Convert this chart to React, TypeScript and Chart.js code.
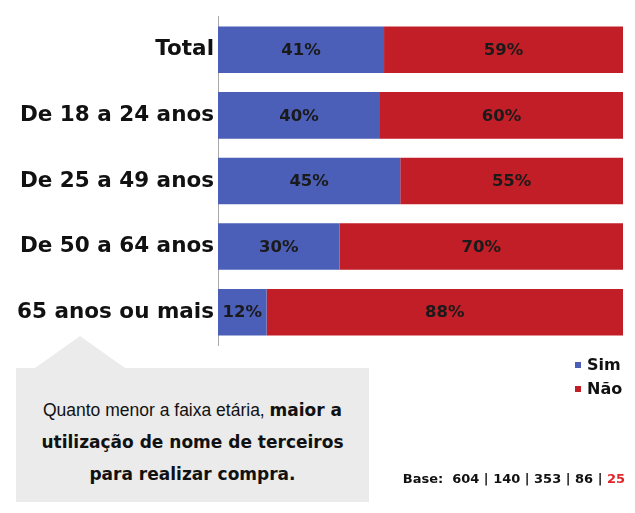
import React, { useEffect, useRef } from "react";
import { Chart, registerables } from "chart.js";

Chart.register(...registerables);

const categories = ["Total", "De 18 a 24 anos", "De 25 a 49 anos", "De 50 a 64 anos", "65 anos ou mais"];
const simValues = [41, 40, 45, 30, 12];
const naoValues = [59, 60, 55, 70, 88];
const seriesNames = ["Sim", "Não"];
const baseValues = ["604", "140", "353", "86"];
const baseHighlight = "25";

const BLUE = "#4b5fb8";
const RED = "#c21e27";

const labelPlugin = {
  id: "barLabels",
  afterDatasetsDraw(chart: any) {
    const ctx = chart.ctx;
    ctx.save();
    ctx.font = "bold 16.5px 'DejaVu Sans'";
    ctx.fillStyle = "#1a1a1a";
    ctx.textAlign = "center";
    ctx.textBaseline = "middle";
    chart.data.datasets.forEach((ds: any, di: number) => {
      const meta = chart.getDatasetMeta(di);
      meta.data.forEach((el: any, i: number) => {
        const v = ds.data[i];
        const cx = (el.x + el.base) / 2;
        ctx.fillText(v + "%", cx, el.y + 1);
      });
    });
    ctx.restore();
  },
};

export default function App() {
  const ref = useRef<HTMLCanvasElement>(null);
  useEffect(() => {
    if (!ref.current) return;
    const chart = new Chart(ref.current, {
      type: "bar",
      data: {
        labels: categories,
        datasets: [
          { label: seriesNames[0], data: simValues, backgroundColor: BLUE, categoryPercentage: 1, barPercentage: 0.71 },
          { label: seriesNames[1], data: naoValues, backgroundColor: RED, categoryPercentage: 1, barPercentage: 0.71 },
        ],
      },
      options: {
        indexAxis: "y",
        responsive: false,
        animation: false,
        layout: { padding: { left: 0, right: 12, top: 14, bottom: 168 } },
        plugins: { legend: { display: false }, tooltip: { enabled: false } },
        scales: {
          x: { stacked: true, min: 0, max: 100, display: false },
          y: {
            stacked: true,
            grid: { display: false, drawTicks: false },
            border: { display: true, color: "#a8a8a8", width: 1 },
            ticks: {
              color: "#111",
              padding: 4,
              font: { family: "'DejaVu Sans'", weight: "bold", size: 21.5 },
            },
            afterFit: (scale: any) => {
              scale.width = 218;
            },
          },
        },
      },
      plugins: [labelPlugin],
    });
    return () => chart.destroy();
  }, []);

  return (
    <div style={{ position: "absolute", left: 0, top: 0, width: 635, height: 513, background: "#fff", overflow: "hidden" }}>
      <canvas ref={ref} width={635} height={513} style={{ display: "block" }} />
      <div
        style={{
          position: "absolute",
          left: 35,
          top: 336,
          width: 0,
          height: 0,
          borderLeft: "45px solid transparent",
          borderRight: "45px solid transparent",
          borderBottom: "32px solid #ebebeb",
        }}
      />
      <div
        style={{
          position: "absolute",
          left: 16,
          top: 368,
          width: 353,
          height: 134,
          background: "#ebebeb",
          color: "#111",
          textAlign: "center",
        }}
      >
        <div style={{ position: "absolute", top: 26, left: 0, right: 0, lineHeight: "32px", fontSize: 17.5 }}>
          <div>
            <span style={{ fontFamily: "'Liberation Sans', Arial", fontWeight: "normal" }}>Quanto menor a faixa etária, </span>
            <span style={{ fontFamily: "'DejaVu Sans'", fontWeight: "bold", fontSize: 17 }}>maior a</span>
          </div>
          <div style={{ fontFamily: "'DejaVu Sans'", fontWeight: "bold", fontSize: 17 }}>utilização de nome de terceiros</div>
          <div style={{ fontFamily: "'DejaVu Sans'", fontWeight: "bold", fontSize: 17 }}>para realizar compra.</div>
        </div>
      </div>
      <div style={{ position: "absolute", left: 575, top: 353, fontFamily: "'DejaVu Sans'", fontWeight: "bold", fontSize: 16, color: "#111", lineHeight: "24px" }}>
        {seriesNames.map((n, i) => (
          <div key={n} style={{ display: "flex", alignItems: "center" }}>
            <span style={{ display: "inline-block", width: 6, height: 6, background: i === 0 ? BLUE : RED, marginRight: 6 }} />
            <span>{n}</span>
          </div>
        ))}
      </div>
      <div style={{ position: "absolute", right: 10, top: 471, fontFamily: "'DejaVu Sans'", fontWeight: "bold", fontSize: 13, color: "#111", whiteSpace: "pre" }}>
        {"Base:  " + baseValues.join(" | ") + " | "}
        <span style={{ color: "#e0262b" }}>{baseHighlight}</span>
      </div>
    </div>
  );
}
